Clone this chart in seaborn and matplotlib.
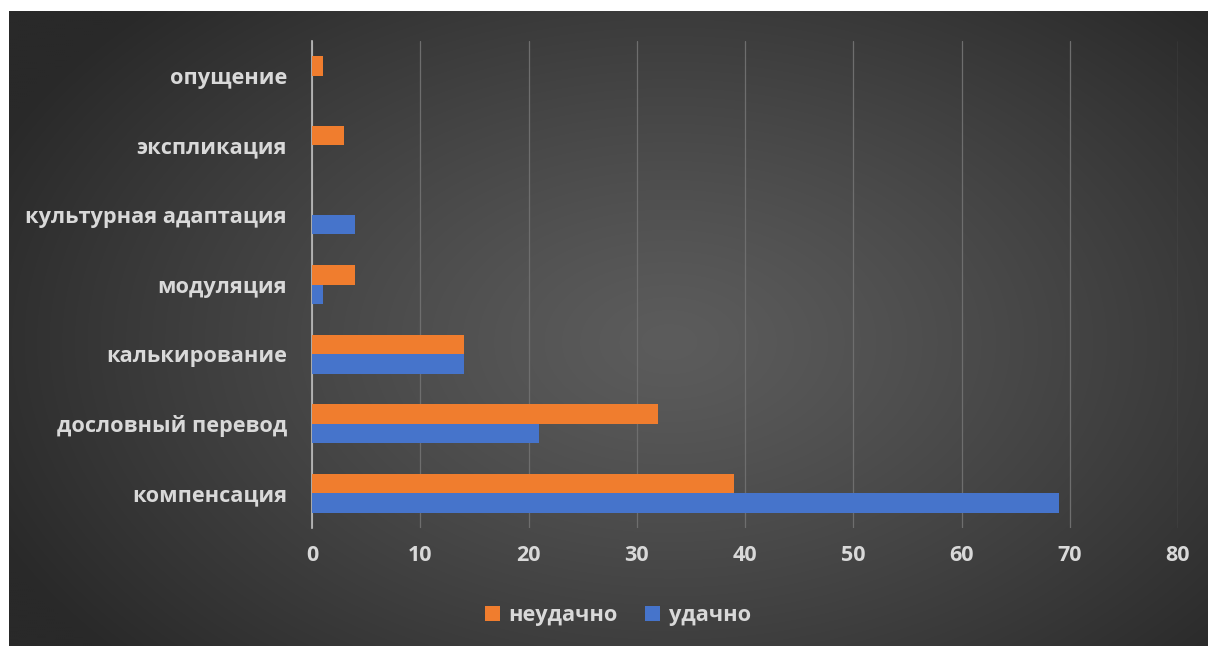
import numpy as np
import pandas as pd
import matplotlib
matplotlib.use("Agg")
import matplotlib.pyplot as plt
from matplotlib.patches import Patch
import seaborn as sns

categories = ["опущение", "экспликация", "культурная адаптация", "модуляция",
              "калькирование", "дословный перевод", "компенсация"]
fail_values = [1, 3, 0, 4, 14, 32, 39]     # неудачно
success_values = [0, 0, 4, 1, 14, 21, 69]  # удачно
series_names = ["неудачно", "удачно"]
x_ticks = [0, 10, 20, 30, 40, 50, 60, 70, 80]

df = pd.DataFrame({
    "cat": categories * 2,
    "val": fail_values + success_values,
    "series": [series_names[0]] * len(categories) + [series_names[1]] * len(categories),
})

sns.set_theme(style="white")
plt.rcParams["font.family"] = ["Open Sans", "DejaVu Sans"]

W, H = 1208, 646
fig = plt.figure(figsize=(W / 100, H / 100), dpi=100, facecolor="white")

# radial dark-gray backdrop
bg = fig.add_axes([9 / W, 0, 1 - 9 / W, 1 - 11 / H])
bg.set_axis_off()
ny, nx = 320, 600
yy, xx = np.mgrid[0:ny, 0:nx]
cx, cy = nx * 0.55, ny * 0.52
r = np.sqrt(((xx - cx) / (nx * 0.62)) ** 2 + ((yy - cy) / (ny * 0.75)) ** 2)
r = np.clip(r, 0, 1)
inner, outer = 0x5c / 255, 0x29 / 255
g = inner + (outer - inner) * r ** 1.2
img = np.dstack([g, g, g])
bg.imshow(img, aspect="auto", extent=[0, 1, 0, 1], interpolation="bilinear")

ax = fig.add_axes([312 / W, 1 - 528 / H, (1178 - 312) / W, (528 - 41) / H])
ax.patch.set_alpha(0)

palette = {"неудачно": "#F07D2E", "удачно": "#4674CB"}
sns.barplot(data=df, x="val", y="cat", hue="series", hue_order=series_names,
            order=categories, palette=palette, orient="h", width=0.56,
            saturation=1, legend=False, ax=ax, zorder=3, linewidth=0)

ax.set_xlim(0, 80)
ax.set_xticks(x_ticks)
ax.set_xticklabels([str(t) for t in x_ticks], color="#D9D9D9",
                   fontsize=15.5, fontweight="bold")
ax.tick_params(axis="x", length=0, pad=12)
ax.tick_params(axis="y", length=0, pad=18, labelsize=15.7, labelcolor="#D9D9D9")
for lbl in ax.get_yticklabels():
    lbl.set_fontweight("bold")
ax.set_xlabel("")
ax.set_ylabel("")
ax.grid(axis="x", color="#6E6E6E", linewidth=0.9, zorder=0)
ax.set_axisbelow(True)
for s in ["top", "right", "bottom"]:
    ax.spines[s].set_visible(False)
ax.spines["left"].set_color("#BFBFBF")
ax.spines["left"].set_linewidth(1.2)

handles = [Patch(facecolor=palette[n], edgecolor="none", label=n) for n in series_names]
leg = fig.legend(handles=handles, loc="center", bbox_to_anchor=(618 / W, 1 - 616 / H),
                 ncol=2, frameon=False, handlelength=0.69, handleheight=0.69,
                 handletextpad=0.4, columnspacing=1.25,
                 prop={"size": 15.7, "weight": "bold"})
for t in leg.get_texts():
    t.set_color("#D9D9D9")

fig.savefig("out.png", dpi=100, facecolor="white")
